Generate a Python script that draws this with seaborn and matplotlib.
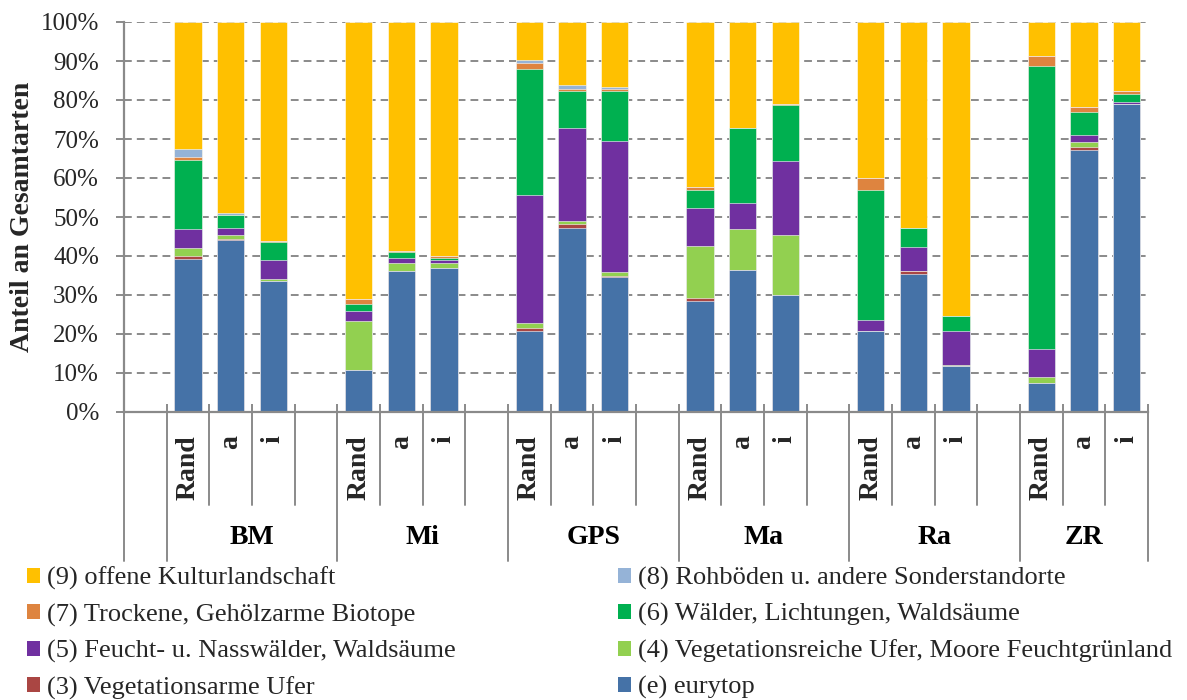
import numpy as np
import pandas as pd
import matplotlib
matplotlib.use("Agg")
import matplotlib.pyplot as plt
import matplotlib.transforms as mtransforms
from matplotlib.patches import Patch
import seaborn as sns

# ---------------- data ----------------
groups = ["BM", "Mi", "GPS", "Ma", "Ra", "ZR"]
subcats = ["Rand", "a", "i"]

series_names = [
    "(e) eurytop",
    "(3) Vegetationsarme Ufer",
    "(4) Vegetationsreiche Ufer, Moore Feuchtgrünland",
    "(5) Feucht- u. Nasswälder, Waldsäume",
    "(6) Wälder, Lichtungen, Waldsäume",
    "(7) Trockene, Gehölzarme Biotope",
    "(8) Rohböden u. andere Sonderstandorte",
    "(9) offene Kulturlandschaft",
]
series_colors = ["#4572A7", "#AA4643", "#92D050", "#7030A0",
                 "#00B050", "#DE843F", "#95B3D7", "#FFC000"]

# order of bars: BM Rand,a,i | Mi | GPS | Ma | Ra | ZR   (percent)
eurytop = [39.3, 44.0, 33.6, 10.8, 36.2, 37.0, 20.7, 47.1, 34.6, 28.4, 36.3, 30.1, 20.8, 35.5, 11.7, 7.5, 67.2, 79.1]
ufer_arm = [0.6, 0.3, 0.1, 0.0, 0.0, 0.0, 0.8, 1.1, 0.2, 0.8, 0.0, 0.0, 0.0, 0.7, 0.0, 0.0, 0.7, 0.0]
ufer_reich = [2.1, 1.0, 0.5, 12.6, 2.0, 1.2, 1.4, 0.8, 1.2, 13.4, 10.6, 15.2, 0.0, 0.0, 0.4, 1.4, 1.4, 0.0]
feuchtwald = [5.0, 2.0, 4.9, 2.6, 1.2, 0.9, 32.7, 23.9, 33.4, 9.7, 6.6, 19.0, 2.7, 6.2, 8.6, 7.2, 1.7, 0.5]
waelder = [17.5, 3.1, 4.6, 1.8, 1.5, 0.4, 32.3, 9.5, 13.0, 4.6, 19.2, 14.3, 33.3, 4.7, 3.8, 72.7, 5.9, 2.0]
trocken = [1.0, 0.2, 0.1, 1.1, 0.5, 0.5, 1.7, 0.4, 0.5, 0.8, 0.2, 0.5, 3.1, 0.0, 0.0, 2.6, 1.2, 0.6]
rohboden = [2.0, 0.4, 0.0, 0.0, 0.0, 0.0, 0.7, 1.1, 0.4, 0.0, 0.0, 0.0, 0.0, 0.2, 0.0, 0.0, 0.0, 0.0]
kultur = [32.5, 49.0, 56.2, 71.1, 58.6, 60.0, 9.7, 16.1, 16.7, 42.3, 27.1, 20.9, 40.1, 52.7, 75.5, 8.6, 21.9, 17.8]

y_ticks = [0, 10, 20, 30, 40, 50, 60, 70, 80, 90, 100]
y_label = "Anteil an Gesamtarten"

# ---------------- style ----------------
sns.set_theme(style="white")
plt.rcParams["font.family"] = ["Liberation Serif", "DejaVu Serif"]
GRAY = "#8a8a8a"

values = np.array([eurytop, ufer_arm, ufer_reich, feuchtwald,
                   waelder, trocken, rohboden, kultur])
cum = np.cumsum(values, axis=0)

bar_keys = [f"{g}|{s}" for g in groups for s in subcats]
slot_names = ["_pad"]
for gi, g in enumerate(groups):
    slot_names += [f"{g}|{s}" for s in subcats]
    if gi < len(groups) - 1:
        slot_names.append(f"_gap{gi}")

W, H = 1187, 700
fig = plt.figure(figsize=(W / 100, H / 100), dpi=100)
ax = fig.add_axes([124 / W, 1 - 412 / H, (1148 - 124) / W, 390 / H])
ax.set_axisbelow(True)

for k in reversed(range(len(series_names))):
    df = pd.DataFrame({"slot": bar_keys, "val": cum[k]})
    sns.barplot(data=df, x="slot", y="val", order=slot_names,
                color=series_colors[k], saturation=1, width=0.64,
                errorbar=None, edgecolor="white", linewidth=0.4, ax=ax)

ax.set_xlim(-0.5, len(slot_names) - 0.5)
ax.set_ylim(0, 100)

# y axis
ax.set_yticks(y_ticks)
ax.set_yticklabels([f"{v}%" for v in y_ticks], fontsize=18)
ax.tick_params(axis="y", direction="out", length=6, width=1.4, color=GRAY,
               pad=12, left=True)
ax.yaxis.grid(True, linestyle=(0, (4, 2.6)), color=GRAY, linewidth=1.4)
ax.xaxis.grid(False)
ax.set_ylabel("")
ax.set_xlabel("")

# x axis labels
bar_pos = [slot_names.index(k) for k in bar_keys]
ax.set_xticks(bar_pos)
ax.set_xticklabels([k.split("|")[1] for k in bar_keys], rotation=90,
                   fontsize=20, fontweight="bold")
ax.tick_params(axis="x", which="major", length=0, pad=17)
bounds = np.arange(-0.5, len(slot_names), 1.0)
ax.set_xticks(bounds, minor=True)
ax.tick_params(axis="x", which="minor", direction="in", length=6,
               width=1.4, color=GRAY, bottom=True)

for side in ["top", "right"]:
    ax.spines[side].set_visible(False)
for side in ["left", "bottom"]:
    ax.spines[side].set_color(GRAY)
    ax.spines[side].set_linewidth(1.6)

# separators below axis
trans = mtransforms.blended_transform_factory(ax.transData, ax.transAxes)
long_bounds = {-0.5, len(slot_names) - 0.5}
group_spans = []
for g in groups:
    idx = [slot_names.index(f"{g}|{s}") for s in subcats]
    long_bounds.add(idx[0] - 0.5)
    group_spans.append(idx[0] - 0.5)
group_spans.append(len(slot_names) - 0.5)
for b in bounds:
    yb = -0.382 if b in long_bounds else -0.238
    ax.plot([b, b], [0, yb], transform=trans, clip_on=False,
            color=GRAY, linewidth=1.4)

for gi, g in enumerate(groups):
    cx = (group_spans[gi] + group_spans[gi + 1]) / 2
    ax.text(cx, -0.322, g, transform=trans, ha="center", va="center",
            fontsize=20, fontweight="bold", color="black")

fig.text(23 / W, 1 - 217 / H, y_label, rotation=90, ha="center",
         va="center", fontsize=20, fontweight="bold")

# legend (two columns)
handles = [Patch(facecolor=c, edgecolor="none") for c in series_colors]
col1 = [7, 5, 3, 1]
col2 = [6, 4, 2, 0]
leg_kw = dict(frameon=False, fontsize=19, handlelength=0.5, handleheight=0.5,
              handletextpad=0.25, labelspacing=0.5, borderpad=0,
              borderaxespad=0, loc="upper left")
fig.legend([handles[i] for i in col1], [series_names[i] for i in col1],
           bbox_to_anchor=(27 / W, 1 - 567 / H), **leg_kw)
fig.legend([handles[i] for i in col2], [series_names[i] for i in col2],
           bbox_to_anchor=(618 / W, 1 - 567 / H), **leg_kw)

fig.savefig("out.png", dpi=100)
